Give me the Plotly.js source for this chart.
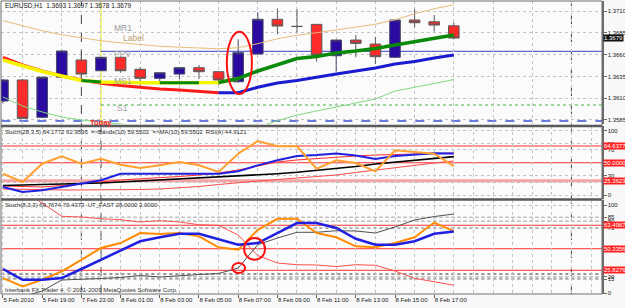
<!DOCTYPE html>
<html><head><meta charset="utf-8">
<script src="https://cdn.plot.ly/plotly-3.0.1.min.js"></script>
<style>html,body{margin:0;padding:0;background:#f8f8f8}#c{width:625px;height:308px}</style>
</head><body><div id="c"></div>
<script>
// ---------- data ----------
const bars = [0,1,2,3,4,5,6,7,8,9,10,11,12,13,14,15,16,17,18,19,20,21,22,23];
const labelBars = [0,2,4,6,8,10,12,14,16,18,20,22];
const timeLabels = ['5 Feb 2010','5 Feb 19:00','7 Feb 23:00','8 Feb 01:00','8 Feb 03:00','8 Feb 05:00','8 Feb 07:00','8 Feb 09:00','8 Feb 11:00','8 Feb 13:00','8 Feb 15:00','8 Feb 17:00'];

const open  = [1.36068,1.36309,1.35881,1.3634,1.36538,1.36415,1.36569,1.36431,1.36328,1.36377,1.3645,1.36404,1.36289,1.36607,1.37005,1.36925,1.36947,1.36587,1.36767,1.36721,1.36569,1.36997,1.36977,1.3693];
const high  = [1.3632,1.3632,1.3635,1.3665,1.36661,1.3657,1.3658,1.36458,1.36395,1.36455,1.36481,1.3641,1.36775,1.37085,1.37131,1.3712,1.3695,1.3677,1.36825,1.36805,1.37,1.3712,1.37054,1.3697];
const low   = [1.3604,1.3586,1.3587,1.3633,1.36309,1.3641,1.36392,1.3624,1.3629,1.3632,1.3632,1.36251,1.3628,1.366,1.36833,1.36856,1.36518,1.36404,1.36569,1.36492,1.3656,1.36913,1.36863,1.3678];
const close = [1.36309,1.35869,1.3634,1.36641,1.36377,1.36569,1.36415,1.36328,1.36392,1.3645,1.36404,1.36309,1.36622,1.37005,1.36928,1.36922,1.36595,1.36767,1.36729,1.36576,1.36997,1.36966,1.36939,1.3679];

const maFast = [1.36538,1.36469,1.36406,1.36354,1.36303,1.36286,1.3628,1.36278,1.36278,1.36278,1.36278,1.3628,1.36326,1.36412,1.36481,1.36555,1.36578,1.36618,1.36641,1.3667,1.3671,1.3675,1.36785,1.36825];
const maSlow = [1.36567,1.36481,1.36412,1.36354,1.36309,1.36271,1.36245,1.36225,1.36205,1.36194,1.36179,1.36163,1.36163,1.36225,1.36274,1.36303,1.36343,1.36377,1.36412,1.36446,1.36492,1.36521,1.36561,1.36595];
const envLow = [1.36114,1.3601,1.35942,1.35884,1.3585,1.35827,1.35804,1.35781,1.35769,1.35758,1.35746,1.35735,1.35746,1.35769,1.35842,1.35907,1.35953,1.35999,1.36039,1.36091,1.36182,1.36223,1.36268,1.36314];
const envHigh = [1.36989,1.36931,1.36874,1.36828,1.36794,1.36759,1.36736,1.36713,1.36696,1.36685,1.36673,1.36667,1.36679,1.36725,1.36782,1.36822,1.36851,1.36885,1.36914,1.36948,1.37,1.37069,1.37126,1.37172];

const priceTicks = [1.3710,1.3685,1.3660,1.3635,1.3610,1.3585];
const pivotPPV = 1.36638, pivotS1 = 1.36022, pivotLow = 1.35838;
const lastPrice = 1.3679;

// stochastic pane (28,3,5)
const rsi4    = [33.0,20.2,48.5,60.0,48.5,56.3,47.0,41.9,46.0,51.2,46.0,35.7,64.0,83.7,75.5,75.5,40.8,53.8,49.6,36.7,69.3,66.7,64.0,44.9];
const stoch28 = [12.4,4.7,7.3,12.4,17.5,22.8,33.0,33.0,33.0,33.0,33.0,33.0,36.7,46.0,53.8,60.5,62.0,64.3,61.2,55.8,60.5,62.8,64.7,64.2];
const ma10    = [14.7,15.5,16.0,16.6,17.1,18.6,20.2,21.7,23.3,24.8,26.4,27.9,29.5,31.0,33.0,35.2,38.0,41.1,44.2,48.1,51.2,54.3,57.4,59.55];
const bandUp  = [14.0,13.2,12.4,14.7,17.1,20.2,23.3,24.8,26.4,28.7,31.0,34.1,38.8,45.0,51.2,54.3,56.6,58.9,60.5,62.0,62.8,63.6,64.3,65.1];
const bandDn  = [9.3,8.5,7.8,7.8,7.8,7.8,7.8,8.5,9.3,10.9,13.2,16.3,19.4,21.7,24.0,26.4,27.9,31.0,34.9,38.8,42.6,46.5,49.6,52.7];
const stochLevels = [76, 50, 22];
const stochLevelText = ['64.6377','50.0000','25.3623'];

// bottom pane stochastic (8,3,3) + UT_FAST
const st8Main = [27.3,15.1,15.1,17.0,27.3,37.8,48.1,58.8,63.3,67.4,67.4,61.4,54.9,56.8,68.2,79.5,79.5,73.9,61.7,54.9,54.9,58.8,67.4,69.8];
const st8Sig  = [17.0,7.6,15.1,24.7,37.8,51.1,56.8,68.2,67.0,68.2,64.4,51.9,49.2,71.9,84.4,84.4,68.2,63.3,53.1,51.9,56.8,63.3,80.1,70.4];
const utFast  = [null,-4,2.3,14.8,15.3,16.5,17.6,19.9,18.2,19.9,21.0,22.2,28.4,54.9,62.5,69.0,69.0,70.8,70.5,68.2,75.0,83.0,86.9,89.8];
const utSlow  = [null,117,102.3,87.2,86.4,84.4,83.3,80.7,82.2,80.7,77.6,76.9,65.9,42.6,34.1,32.2,31.8,30.1,32.2,31.5,25.0,16.7,12.8,8.9];
const lowLevels = [77, 50.34, 25.83];
const lowLevelText = ['63.4967','50.3356','25.8276'];
const dotLevels = [86, 81.5, 74, 21.6, 18.5, 15.9];

// ---------- traces ----------
const F = 'Liberation Sans, Arial, sans-serif';
const traces = [];
function seg(arr, a, b){ return arr.map((v,i)=> (i>=a && i<=b) ? v : null); }
function line(y, color, width, xa, ya, dash){
  return {type:'scatter', mode:'lines', x:bars, y:y, xaxis:xa, yaxis:ya, line:{color:color,width:width,dash:dash||'solid'}, hoverinfo:'skip', connectgaps:false};
}
// top pane
traces.push(line(envHigh,'#e8bd7c',1,'x','y'));
traces.push(line(envLow,'#7fd87f',1,'x','y'));
traces.push(line(seg(maSlow,0,11),'#ff1a1a',3,'x','y'));
traces.push(line(seg(maSlow,11,23),'#1a1ad0',3,'x','y'));
traces.push(line(seg(maFast,0,12),'#f5f500',3.5,'x','y'));
traces.push(line(seg(maFast,4,5),'#0a8a0a',3,'x','y'));
traces.push(line(seg(maFast,8,10),'#0a8a0a',3,'x','y'));
traces.push(line(seg(maFast,11,23),'#0a8a0a',3.5,'x','y'));
traces.push({type:'candlestick', x:bars, open:open, high:high, low:low, close:close, xaxis:'x', yaxis:'y',
  increasing:{fillcolor:'#2a0aa0', line:{color:'#44446a', width:1}},
  decreasing:{fillcolor:'#ff2a2a', line:{color:'#5a5a5a', width:1}},
  whiskerwidth:0, hoverinfo:'skip'});
// stoch pane
traces.push(line(bandDn,'#ff4a4a',1,'x2','y2'));
traces.push(line(bandUp,'#ff3030',1,'x2','y2'));
traces.push(line(ma10,'#000000',1.6,'x2','y2'));
traces.push(line(stoch28,'#2020e0',2,'x2','y2'));
traces.push(line(rsi4,'#ffa030',2,'x2','y2'));
// bottom pane
traces.push(line(utSlow,'#ff5050',1,'x3','y3'));
traces.push(line(utFast,'#505050',1,'x3','y3'));
traces.push(line(st8Sig,'#ff8c00',2,'x3','y3'));
traces.push(line(st8Main,'#2020e0',2.5,'x3','y3'));

// ---------- shapes ----------
const shapes = [];
function hline(xref, yref, y, color, width, dash, x0, x1){
  shapes.push({type:'line', xref:xref, yref:yref, x0:x0===undefined?-1:x0, x1:x1===undefined?31:x1, y0:y, y1:y, line:{color:color,width:width,dash:dash||'solid'}, layer:'below'});
}
hline('x','y',pivotLow,'#3a50d8',1.5,'dash');
hline('x','y',pivotPPV,'#3a46c8',1,'solid',5);
hline('x','y',pivotS1,'#40b040',1,'dot',5);
// separators (period)
[4,29].forEach(b=>shapes.push({type:'line',xref:'x',yref:'paper',x0:b,x1:b,y0:0,y1:1,line:{color:'#404040',width:1,dash:'dash'},layer:'below'}));
shapes.push({type:'line',xref:'x2',yref:'paper',x0:5,x1:5,y0:0,y1:0.574,line:{color:'#404040',width:1,dash:'dash'},layer:'below'});
shapes.push({type:'line',xref:'x',yref:'y domain',x0:5,x1:5,y0:0,y1:1,line:{color:'#f0f000',width:1},layer:'below'});
stochLevels.forEach((v,i)=>hline('x2','y2',v, i===2?'#f4a4a4':'#ff3030', i===2?3:1,'solid'));
lowLevels.forEach(v=>hline('x3','y3',v,'#ff3030',1,'solid'));
dotLevels.forEach(v=>hline('x3','y3',v,'#303030',1,'dot'));
// pane separators and frame
[0.5734,0.3225].forEach(p=>shapes.push({type:'line',xref:'paper',yref:'paper',x0:0,x1:1,y0:p,y1:p,line:{color:'#5a5a5a',width:2.5}}));
shapes.push({type:'rect',xref:'paper',yref:'paper',x0:0,x1:1,y0:0,y1:1,line:{color:'#707070',width:1}});
// highlight ellipses
shapes.push({type:'circle',xref:'x',yref:'y',x0:11.42,x1:12.7,y0:1.36148,y1:1.36863,line:{color:'#ff1010',width:2}});
shapes.push({type:'circle',xref:'x3',yref:'y3',x0:12.3,x1:13.37,y0:37.8,y1:62.5,line:{color:'#ff1010',width:2}});
shapes.push({type:'circle',xref:'x3',yref:'y3',x0:11.7,x1:12.35,y0:22.7,y1:34.1,line:{color:'#ff1010',width:2}});

// ---------- annotations ----------
const ann = [];
function txt(text, xref, x, yref, y, size, color, xanchor, extra){
  ann.push(Object.assign({text:text, xref:xref, x:x, yref:yref, y:y, showarrow:false, font:{family:F,size:size,color:color}, xanchor:xanchor||'left', yanchor:'middle'}, extra||{}));
}
txt('EURUSD,H1  1.3693 1.3697 1.3678 1.3679','paper',0,'paper',0.983,6.5,'#202020','left',{xshift:2});
txt('Stoch(28,3,5) 64.1772 62.9536  =>Bands(10) 59.5502  =>MA(10) 59.5502  RSI(4) 44.9121','paper',0,'paper',0.553,6,'#303030','left',{xshift:2});
txt('Stoch(8,3,3) 69.7674 70.4373  UT_FAST 28.0000 3.0000','paper',0,'paper',0.304,6,'#303030','left',{xshift:2});
txt('Interbank FX Trader 4, © 2001-2009 MetaQuotes Software Corp.','paper',0,'paper',0.012,6,'#303030','left',{xshift:2});
txt('MR1','x',6.1,'y',1.36902,8.5,'#9a9a9a','center');
txt('Label','x',6.66,'y',1.36794,8.5,'#c0a070','center');
txt('PPV','x',6.1,'y',1.36607,8.5,'#a0a0a0','center');
txt('MS1','x',6.1,'y',1.36297,8.5,'#a0a0a0','center');
txt('S1','x',6.12,'y',1.35984,8.5,'#a0a0a0','center');
txt('<b>Today</b>','x',5,'y',1.3582,7.5,'#ff2020','center');
txt('1.3679','paper',1,'y',lastPrice,6,'#ffffff','left',{xshift:1,bgcolor:'#101010',borderpad:0});
stochLevels.forEach((v,i)=>txt(stochLevelText[i],'paper',1,'y2',v,6,'#ffffff','left',{xshift:1,bgcolor:'#ff2020',borderpad:0}));
lowLevels.forEach((v,i)=>txt(lowLevelText[i],'paper',1,'y3',v,6,'#ffffff','left',{xshift:1,bgcolor:'#ff2020',borderpad:0}));

// ---------- layout ----------
const xRange = [-0.1, 30.56];
const gridCol = '#c4c4c4';
const baseX = {range:xRange, showline:false, zeroline:false, fixedrange:true};
const yBase = {side:'right', anchor:'x', showline:true, linecolor:'#6a6a6a', linewidth:1.5, ticks:'outside', ticklen:3, tickcolor:'#6a6a6a',
  tickfont:{family:F,size:6,color:'#202020'}, showgrid:true, gridcolor:gridCol, griddash:'dot', zeroline:false};
const layout = {
  width:625, height:308, margin:{l:1,r:23,t:1,b:14},
  paper_bgcolor:'#f8f8f8', plot_bgcolor:'#fbfbfb', showlegend:false, boxgap:0.23,
  xaxis: Object.assign({}, baseX, {anchor:'y', matches:'x3', rangeslider:{visible:false}, showticklabels:false,
     tickmode:'array', tickvals:bars.filter(b=>b%2===1).concat([25,27,29]), showgrid:true, gridcolor:gridCol, griddash:'dot'}),
  xaxis2: Object.assign({}, baseX, {anchor:'y2', matches:'x3', showticklabels:false, tickmode:'linear', tick0:0, dtick:1, showgrid:true, gridcolor:gridCol, griddash:'dot'}),
  xaxis3: Object.assign({}, baseX, {anchor:'y3', tickmode:'array', tickvals:labelBars, ticktext:timeLabels, ticks:'outside', ticklen:3, tickcolor:'#606060',
     tickangle:0, automargin:false, ticklabelposition:'outside right', tickfont:{family:F,size:6,color:'#202020'}, showgrid:true, gridcolor:gridCol, griddash:'dot',
     minor:{tick0:0, dtick:1, showgrid:true, gridcolor:gridCol, griddash:'dot'}}),
  yaxis: Object.assign({}, yBase, {domain:[0.5802,1], range:[1.35804,1.37215], tickmode:'array', tickvals:priceTicks, tickformat:'.4f'}),
  yaxis2: Object.assign({}, yBase, {anchor:'x2', domain:[0.3242,0.5734], range:[-6.2,107], tickmode:'array', tickvals:[100,80,70,30,20,0]}),
  yaxis3: Object.assign({}, yBase, {anchor:'x3', domain:[0,0.3208], range:[-1.1,105.7], tickmode:'array', tickvals:[100,86,81.5,74,18.5,15.9,0], ticktext:['100','85','80','75','20','15','0']}),
  shapes:shapes, annotations:ann
};
Plotly.newPlot('c', traces, layout, {staticPlot:true, displayModeBar:false});
</script></body></html>
